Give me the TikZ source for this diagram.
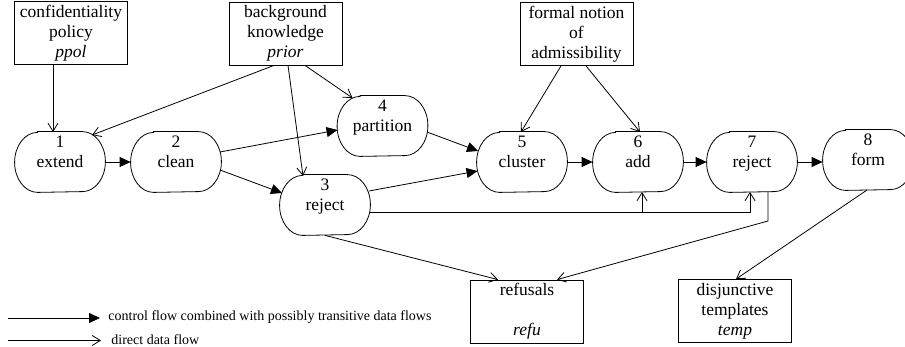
\documentclass[tikz,border=0pt]{standalone}
\usepackage{fontspec}
\setmainfont{Liberation Serif}
\usetikzlibrary{arrows.meta,calc}
\begin{document}
\begin{tikzpicture}[x=1pt,y=-1pt, line width=0.8pt,
  txt/.style={font=\fontsize{17.5}{20}\selectfont, align=center, inner sep=0pt},
  stad/.style={minimum width=90pt, minimum height=60pt, inner sep=0pt},
  databox/.style={draw, txt, minimum width=113pt, minimum height=63pt},
  lbl/.style={txt, text depth=0pt},
  legtxt/.style={anchor=west, font=\fontsize{14}{16}\selectfont, inner sep=0pt},
  ctrl/.style={-{Triangle[length=11pt,width=10pt]}},
  dflow/.style={-{Straight Barb[length=8pt,width=10pt]}}]
\useasboundingbox (0,0) rectangle (905,347);

% boxes
\node[databox] (conf) at (71,33) {confidentiality\\policy\\\textit{ppol}};
\node[databox] (bk) at (285.5,33.5) {background\\knowledge\\\textit{prior}};
\node[databox] (adm) at (576.5,34) {formal notion\\of\\admissibility};
\node[databox] (refs) at (527,311.5) {refusals\\\mbox{}\\\textit{refu}};
\node[databox] (temp) at (735,311) {disjunctive\\templates\\\textit{temp}};

% process nodes
\node[stad] (n1) at (60,162) {};
\node[stad] (n2) at (176,162) {};
\node[stad] (n3) at (325,205) {};
\node[stad] (n4) at (382.5,126) {};
\node[stad] (n5) at (522,162) {};
\node[stad] (n6) at (638,162) {};
\node[stad] (n7) at (752,162) {};
\node[stad] (n8) at (868,160) {};

\foreach \n in {n1,n2,n3,n4,n5,n6,n7,n8}{
  \draw ($(\n.north west)+(23,0)$) -- ($(\n.north east)+(-23,0)$)
    arc[start angle=90,end angle=-90,x radius=23pt,y radius=30pt]
    -- ($(\n.south west)+(23,0)$)
    arc[start angle=270,end angle=90,x radius=23pt,y radius=30pt] -- cycle;
}

\node[lbl] (n1t) at ($(n1)+(0,-10)$) {1\\extend};
\node[lbl] (n2t) at ($(n2)+(0,-10)$) {2\\clean};
\node[lbl] (n3t) at ($(n3)+(0,-10)$) {3\\reject};
\node[lbl] (n4t) at ($(n4)+(0,-10)$) {4\\partition};
\node[lbl] (n5t) at ($(n5)+(0,-10)$) {5\\cluster};
\node[lbl] (n6t) at ($(n6)+(0,-10)$) {6\\add};
\node[lbl] (n7t) at ($(n7)+(0,-10)$) {7\\reject};
\node[lbl] (n8t) at ($(n8)+(0,-10)$) {8\\form};

% data flows from sources
\draw[dflow] ($(conf.south)+(-18,0)$) -- ($(n1)+(-7,-30)$);
\draw[dflow] ($(bk.south)+(-11.5,0)$) -- ($(n1)+(32,-27)$);
\draw[dflow] ($(bk.south)+(2.5,0)$) -- ($(n3)+(-22,-29)$);
\draw[dflow] ($(bk.south)+(19.5,0)$) -- ($(n4)+(-30,-28)$);
\draw[dflow] ($(adm.south)+(-15.5,0)$) -- ($(n5)+(-1,-30)$);
\draw[dflow] ($(adm.south)+(9.5,0)$) -- ($(n6)+(2,-30)$);

% control flows
\draw[ctrl] (n1.east) -- (n2.west);
\draw[ctrl] ($(n2)+(44,-10)$) -- ($(n4)+(-45,4)$);
\draw[ctrl] ($(n2)+(44,8)$) -- ($(n3)+(-43,-12)$);
\draw[ctrl] ($(n4)+(44.5,6)$) -- ($(n5)+(-44,-11)$);
\draw[ctrl] ($(n3)+(44,-14)$) -- ($(n5)+(-44.5,9)$);
\draw[ctrl] (n5.east) -- (n6.west);
\draw[ctrl] (n6.east) -- (n7.west);
\draw[ctrl] (n7.east) -- (n7.east -| n8.west);

% data flows 3 -> 6, 7
\coordinate (j3) at ($(n3)+(45,7)$);
\coordinate (b6) at ($(n6)+(4,30)$);
\coordinate (b7) at ($(n7)+(-2,30)$);
\draw[dflow] (j3) -| (b7);
\draw[dflow] (j3 -| b6) -- (b6);

% outputs
\coordinate (s7) at ($(n7)+(16,30)$);
\draw[dflow] (s7) -- ++(0,29) -- ($(refs.north)+(30,0)$);
\draw[dflow] (n3.south) -- ($(refs.north)+(-29,0)$);
\draw[dflow] ($(n8)+(-1,30)$) -- ($(temp.north)+(1,0)$);

% legend
\node[legtxt] (lg1) at (108,317.5) {control flow combined with possibly transitive data flows};
\node[legtxt] (lg2) at (111,339.5) {direct data flow};
\coordinate (l1) at (8,318);
\coordinate (l2) at (8,340.5);
\draw[ctrl] (l1) -- (l1 -| 100,0);
\draw[dflow] (l2) -- (l2 -| 101,0);
\end{tikzpicture}
\end{document}
